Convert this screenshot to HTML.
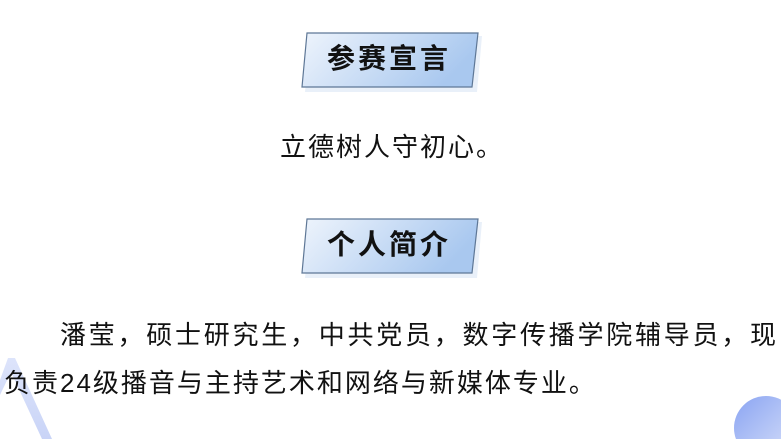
<!DOCTYPE html>
<html><head><meta charset="utf-8"><style>
html,body{margin:0;padding:0}
body{width:781px;height:439px;position:relative;overflow:hidden;background:#fff;font-family:"Liberation Sans","Noto Sans CJK SC",sans-serif;color:#111}
.t{position:absolute;white-space:nowrap}
</style></head><body>
<svg width="781" height="439" style="position:absolute;left:0;top:0">
<defs>
<linearGradient id="g" x1="0" y1="0" x2="1" y2="0.3">
<stop offset="0" stop-color="#eef4fc"/><stop offset="1" stop-color="#a9c8ef"/></linearGradient>
<linearGradient id="c" x1="0" y1="0" x2="1" y2="1">
<stop offset="0" stop-color="#8aa4f2"/><stop offset="1" stop-color="#dbe3fa"/></linearGradient>
<linearGradient id="s" x1="0" y1="0" x2="0" y2="1">
<stop offset="0" stop-color="#dde4fb"/><stop offset="1" stop-color="#c9d4f7"/></linearGradient>
</defs>
<polygon points="311,36 482,36 477,92 305,92" fill="#dfe9f7" opacity="0.7"/>
<polygon points="307,33 478,33 472,87 302,87" fill="url(#g)" stroke="#5e7796" stroke-width="1.2"/>
<polygon points="311,222 482,222 477,278 305,278" fill="#dfe9f7" opacity="0.7"/>
<polygon points="307,219 478,219 472,273 302,273" fill="url(#g)" stroke="#5e7796" stroke-width="1.2"/>
<polygon points="8,358 15,358 52,439 42,439 11,372 0,395 0,380" fill="url(#s)"/>
<circle cx="766" cy="428" r="32" fill="url(#c)"/>
</svg>
<div class="t" style="left:327px;top:43px;font-size:28px;font-weight:bold;letter-spacing:3px;line-height:32px">参赛宣言</div>
<div class="t" style="left:327px;top:229px;font-size:28px;font-weight:bold;letter-spacing:3px;line-height:32px">个人简介</div>
<div class="t" style="left:280px;top:132px;font-size:26px;letter-spacing:2px;line-height:30px">立德树人守初心。</div>
<div class="t" style="left:60px;top:320px;font-size:26px;letter-spacing:2.75px;line-height:30px">潘莹，硕士研究生，中共党员，数字传播学院辅导员，现</div>
<div class="t" style="left:4px;top:368px;font-size:26px;letter-spacing:2.0px;line-height:30px">负责24级播音与主持艺术和网络与新媒体专业。</div>
</body></html>
